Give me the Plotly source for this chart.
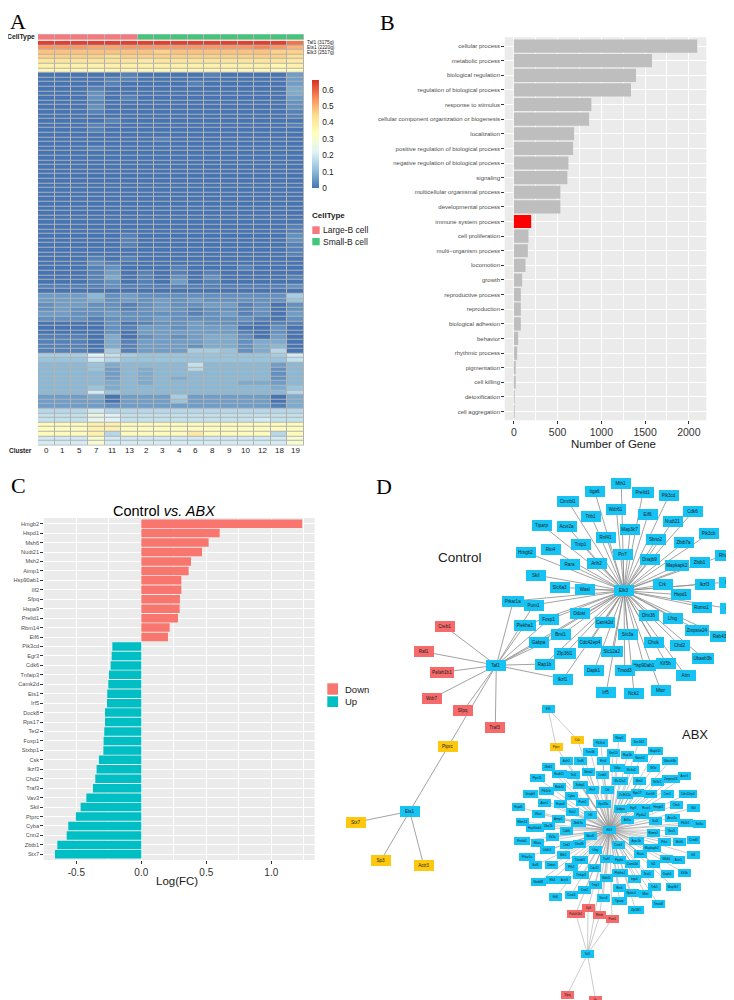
import plotly.graph_objects as go

W, H = 734, 1000


def fx(v):
    return v / W


def fy(v):
    return 1 - v / H


FONT = "Liberation Sans, Arial, sans-serif"
SERIF = "Liberation Serif, Times New Roman, serif"

# ---------------- Panel A : heatmap ----------------
clusters = ["0", "1", "5", "7", "11", "13", "2", "3", "4", "6", "8", "9", "10", "12", "18", "19"]
cluster_celltype = ["Large-B cell"] * 6 + ["Small-B cell"] * 10
heat_row_labels = ["Taf1 (3175g)", "Ets1 (2220g)", "Elk3 (2517g)"]
# each character = value / 0.02 in base 36 (row by row)
heat_step = 0.02
heat_rows = [
    "wwwwwwwwwwwwwwwt", "rrrqqrrrrrrrrsrp", "ooooooonoooooonn", "nnnnmnnnnnnnnnnm",
    "llllllkllllllllk", "jjjjjjjjjjjjjjij", "iiihiiiiiiiiiihh",
    "0000010000100003", "0000110000000003", "0000100001000003", "0001000000000004",
    "0002000000000004", "0002010000000003", "0001000000000002", "0002000000000002",
    "0001000000000001", "0000000000000001", "0000100000000000", "0001000000000001",
    "0001000000000000", "0000000000000000", "0000000100000000", "0000000000000000",
    "0001000000000000", "0000000000000000", "0000000000000000", "0000000000000000",
    "0000000000000000", "0000000000000000", "0000000000000000", "0000000000000000",
    "0000000000000000", "0000000000000000", "0000000000000000", "0000000000000000",
    "0000000000000000", "0000000000000000", "0000000000000000", "0000000000000000",
    "0000000000000000", "0000000000000001", "0000000000000001", "0000010000000002",
    "0000010000000002", "0000010000000001", "0000000000000001", "0000000000000001",
    "0001010000000000", "0002100000000000", "0001200010001000", "0001301010100000",
    "0001401020200001", "0001201030100000", "1111211111111112", "0000000000000000",
    "3335232222222227", "3334232323222226", "2332212322331202", "2322212321221202",
    "3322322221231203", "2221222322222102", "0000201223221011", "0000213323330020",
    "0000203333331020", "1110402323442030", "1110413333442440", "1110413332442450",
    "1110713337762480", "777b97666666667a", "666a866666666669", "5556455559555535",
    "5556354558555525", "5555354555555525", "5555354545555525", "5555454555554435",
    "5556455555555546", "555a655555555558", "3334033373333304", "3333033363333304",
    "3333233333333314", "888a888888888888", "999db99999999999", "999cb99999999a99",
    "hhhjjhhhhhhhhhhh", "hhhjjhhhhhhhhhhh", "hhhj8hhhhkhhhh8h", "aaafaaaaaaaaaaaf",
    "aaafaaaaaaaaaaaf",
]
heat_z = [[int(ch, 36) * heat_step for ch in row] for row in heat_rows]
n_rows = len(heat_z)
heat_colors = ["#4575B4", "#91BFDB", "#E0F3F8", "#FFFFBF", "#FEE090", "#FC8D59", "#D73027"]
heat_scale = [[i / 6, c] for i, c in enumerate(heat_colors)]
celltype_names = ["Large-B cell", "Small-B cell"]
celltype_colors = ["#F7797E", "#43C57A"]

# ---------------- Panel B : GO bar chart ----------------
go_terms = [
    "cellular process", "metabolic process", "biological regulation",
    "regulation of biological process", "response to stimulus",
    "cellular component organization or biogenesis", "localization",
    "positive regulation of biological process", "negative regulation of biological process",
    "signaling", "multicellular organismal process", "developmental process",
    "immune system process", "cell proliferation", "multi\u2212organism process", "locomotion",
    "growth", "reproductive process", "reproduction", "biological adhesion", "behavior",
    "rhythmic process", "pigmentation", "cell killing", "detoxification", "cell aggregation",
]
go_counts = [2096, 1579, 1396, 1339, 886, 860, 688, 677, 624, 612, 532, 532,
             198, 167, 160, 133, 95, 80, 80, 80, 49, 38, 11, 11, 9, 3]
go_highlight = "immune system process"

# ---------------- Panel C : log fold change ----------------
genes = ["Hmgb2", "Hspd1", "Msh6", "Nudt21", "Msh2", "Aimp1", "Hsp90ab1", "Ilf2", "Sfpq",
         "Hspa9", "Prelid1", "Rbm14", "Eif6", "Pik3cd", "Egr3", "Cdk6", "Tnfaip3", "Camk2d",
         "Ets1", "Irf5", "Dock8", "Rps17", "Tet2", "Foxp1", "Stxbp1", "Csk", "Ikzf3", "Chd2",
         "Traf3", "Vav3", "Skil", "Ptprc", "Cyba", "Cnn2", "Zbtb1", "Stx7"]
logfc = [1.238, 0.603, 0.518, 0.467, 0.382, 0.364, 0.308, 0.308, 0.297, 0.295, 0.282,
         0.218, 0.205, -0.223, -0.228, -0.236, -0.249, -0.254, -0.262, -0.264, -0.279,
         -0.279, -0.285, -0.290, -0.292, -0.326, -0.344, -0.354, -0.372, -0.423, -0.467,
         -0.503, -0.562, -0.574, -0.646, -0.664]
fc_groups = ["Down", "Up"]
fc_colors = ["#F8766D", "#00BFC4"]

# ---------------- Panel D : networks ----------------
ctrl_names = [
    "Mth1", "Itga6", "Prelid1", "Pik3cd", "Ctnnbl1", "Wdr61", "Cdk6", "Trib1",
    "Eif6", "Nudt21", "Tiparp", "Acvr2a", "Map3k7", "Pik3cb", "Rnf41", "Sbno2",
    "Zbtb7a", "Tnip1", "Hmgb2", "Rtn4", "Prr7", "Rhoh", "Dnajb9", "Zbtb1",
    "Arih2", "Rara", "Mapkapk2", "Skil", "Ikzf3", "Id2", "Crk", "Slc6a3",
    "Wasl", "Elk3", "Hspd1", "Prkar1a", "Pum1", "Romo1", "Csk", "Ddost",
    "Dhx36", "Lfng", "Foxp1", "Camk2d", "Plekha1", "Zmpste24", "Sin3a", "Bmi1",
    "Rab43", "Chuk", "Gabpa", "Cdc42ep4", "Chd2", "Slc12a2", "Zfp36l1", "Ubash3b",
    "Taf1", "Rap1b", "Kif5b", "Hsp90ab1", "Dapk1", "Tmod3", "Atm", "Ikzf1",
    "Irf5", "Nck2", "Mtor", "Creb1", "Raf1", "Pafah1b1", "Wdr7", "Sfpq",
    "Traf3", "Ptprc", "Ets1", "Stx7", "Sp3", "Actr3",
]
ctrl_x = [
    613.3, 586.7, 635.0, 661.0, 560.0, 608.3, 685.3, 583.3,
    640.0, 665.0, 534.0, 558.7, 622.3, 701.0, 598.3, 648.3,
    676.0, 573.3, 518.3, 542.7, 615.0, 716.7, 641.7, 691.7,
    589.3, 561.7, 669.3, 527.7, 696.7, 720.7, 655.3, 551.7,
    576.7, 616.0, 672.7, 505.3, 525.7, 694.3, 721.7, 572.0,
    641.0, 665.3, 540.7, 596.7, 516.7, 689.3, 620.0, 553.3,
    712.3, 645.7, 531.0, 581.7, 671.7, 604.0, 557.0, 695.3,
    488.3, 536.7, 658.3, 636.0, 586.0, 616.7, 677.7, 555.0,
    598.3, 626.0, 652.7, 436.7, 416.0, 434.3, 424.3, 455.3,
    487.3, 440.0, 401.7, 347.7, 372.7, 415.7,
]
ctrl_y = [
    475.7, 483.3, 484.0, 487.3, 493.3, 501.0, 503.3, 508.7,
    506.7, 513.3, 517.0, 518.0, 521.7, 525.7, 529.0, 531.7,
    534.3, 536.0, 544.3, 541.0, 546.0, 547.0, 551.7, 554.0,
    555.7, 556.7, 557.3, 567.0, 576.0, 574.0, 576.7, 579.3,
    581.3, 582.7, 586.7, 593.0, 597.0, 599.0, 600.7, 605.0,
    607.7, 610.3, 611.7, 614.0, 617.3, 622.0, 626.7, 626.7,
    628.3, 634.3, 634.3, 634.3, 637.3, 643.3, 645.7, 650.0,
    657.3, 656.0, 655.0, 657.7, 662.7, 662.0, 667.7, 671.0,
    684.3, 685.0, 682.3, 618.3, 643.7, 664.3, 690.3, 702.7,
    719.3, 738.7, 803.3, 814.3, 852.7, 857.3,
]
ctrl_red = ["Creb1", "Raf1", "Pafah1b1", "Wdr7", "Sfpq", "Traf3"]
ctrl_yellow = ["Ptprc", "Stx7", "Sp3", "Actr3"]
ctrl_hub = "Elk3"
ctrl_taf1_links = ["Creb1", "Raf1", "Pafah1b1", "Wdr7", "Sfpq", "Traf3", "Ptprc", "Prkar1a",
                   "Pum1", "Plekha1", "Foxp1", "Gabpa", "Bmi1", "Rap1b", "Ikzf1", "Elk3"]
ctrl_ets1_links = ["Ptprc", "Stx7", "Sp3", "Actr3"]

abx_names = [
    "Elf1", "Ptprc", "Csk", "Pik3cd", "Wwp2", "Sec14l1", "Mapk10", "Tnrc6b",
    "Snx10", "Rap1b", "Notch2", "Ubash3b", "Arih2", "Traf6", "Etv6", "Zbtb1",
    "Tollip", "Slc6a3", "Nt5e", "Nudt21", "Tet2", "Sbno2", "Creb1", "Bmi1",
    "Nr3c1", "Zmpste24", "Acvr1", "Ptpn11", "Rab43", "Stxbp1", "Slc12a2", "Dnajb9",
    "Pik3cb", "Cyba", "Prr7", "Crk", "Zc3h12a", "Rps17", "Dock8", "Cnn1",
    "Cdc42ep4", "Hspd1", "Atxn1", "Hspa9", "Pum2", "Vps33a", "Gabpa", "Egr3",
    "Rcor1", "Hmgb2", "Chuk", "Skil", "Wasl", "Aimp1", "Nck2", "Irf5",
    "Elk3", "Ptp4a2", "Ikzf1", "Acvr2a", "Pik3r1", "Sin3a", "Rbm14", "Hsp90ab1",
    "Ube2k", "Zbtb7a", "Arl5a", "Vav3", "Cdk6", "Prelid1", "Rhoa", "Kif5a",
    "Wasf2", "Chd2", "Dhx36", "Cnot1", "Arpc1b", "Romo1", "Prkx", "Msh6",
    "Ccnd3", "Ltb4r1", "Lfng", "Mapkapk2", "Prkar1a", "Mth1", "Rara", "Nfkb1",
    "Actr1", "Irf1", "Ikzf3", "Ddost", "Ctnnbl1", "Traf3", "Ppp6c", "Camk2d",
    "Id2", "Dapk1", "Kif5b", "Ptk2", "Cdc42", "Plekha1", "Stat1", "Itga6",
    "Tnfaip3", "Wdr61", "Nedd4l", "Elk4", "Actr3", "Tnip1", "Rtn4", "Trib1",
    "Map3k7", "Cnn2", "Cnot4", "Eif6", "Socs3", "Nploc4", "Mtor", "Tiparp",
    "Zfp36l1", "Tmod3", "Sp3", "Pafah1b1", "Rhob", "Pum1", "Taf1", "Sfpq", "Itk",
]
abx_x = [
    540.0, 548.3, 569.3, 592.7, 611.0, 630.7, 647.7, 582.7,
    605.0, 619.3, 632.7, 661.7, 558.7, 572.7, 595.0, 540.0,
    609.3, 623.3, 645.0, 551.7, 565.0, 580.3, 594.0, 631.0,
    649.0, 663.3, 676.0, 529.3, 551.7, 572.7, 611.7, 522.7,
    538.3, 563.7, 584.0, 599.3, 617.3, 629.0, 642.0, 659.3,
    680.0, 510.7, 536.7, 552.0, 574.3, 595.0, 612.0, 625.0,
    638.3, 650.7, 668.7, 685.0, 530.0, 550.3, 564.3, 582.7,
    601.7, 633.3, 647.7, 664.3, 677.0, 691.7, 514.3, 526.7,
    540.7, 570.0, 619.3, 663.3, 558.0, 514.0, 529.3, 544.0,
    582.7, 558.3, 571.7, 610.7, 628.3, 645.0, 656.7, 671.0,
    685.0, 539.3, 587.3, 644.3, 519.0, 555.0, 632.7, 658.3,
    670.0, 685.0, 527.7, 543.3, 571.7, 598.7, 611.3, 624.3,
    645.7, 659.0, 676.7, 563.3, 586.0, 611.7, 639.0, 626.7,
    573.3, 598.3, 530.0, 544.0, 556.7, 587.3, 611.0, 646.7,
    665.7, 576.7, 563.3, 547.3, 595.0, 623.3, 637.3, 611.7,
    627.7, 650.0, 580.0, 567.7, 591.7, 604.0, 579.5, 559.2, 587.5,
]
abx_y = [
    700.7, 739.0, 731.7, 734.7, 730.0, 734.3, 743.3, 744.3,
    745.3, 747.3, 750.0, 753.3, 752.7, 752.7, 753.3, 759.0,
    760.0, 762.3, 760.0, 765.7, 766.7, 764.0, 766.7, 772.7,
    774.3, 771.0, 768.3, 770.0, 779.3, 777.0, 773.3, 786.0,
    782.7, 787.7, 781.7, 781.7, 786.7, 785.3, 785.7, 785.7,
    785.7, 799.3, 795.0, 796.0, 793.7, 795.7, 800.7, 800.0,
    800.0, 799.3, 796.7, 800.0, 805.7, 810.7, 804.0, 806.7,
    821.7, 806.7, 813.3, 810.0, 815.0, 816.0, 814.0, 820.0,
    818.3, 815.0, 811.7, 822.7, 822.7, 832.7, 835.0, 829.3,
    828.0, 836.7, 836.0, 837.3, 832.7, 825.0, 834.3, 834.3,
    831.7, 842.0, 842.3, 840.0, 849.0, 847.3, 846.0, 851.0,
    851.7, 846.7, 857.3, 857.3, 851.7, 851.0, 852.3, 856.0,
    856.0, 866.0, 865.3, 859.3, 860.0, 865.0, 865.7, 870.7,
    867.3, 870.0, 874.3, 871.7, 871.7, 876.7, 880.0, 879.0,
    879.0, 882.3, 886.7, 889.3, 890.0, 885.0, 885.7, 893.3,
    901.7, 895.7, 900.0, 905.7, 907.3, 911.0, 946.2, 986.7, 991.5,
]
abx_red = ["Sp3", "Pafah1b1", "Rhob", "Pum1", "Sfpq", "Itk"]
abx_yellow = ["Ptprc", "Csk"]
abx_hub = "Elk3"
abx_elf1_links = ["Ptprc", "Csk"]
abx_taf1_links = ["Sp3", "Pafah1b1", "Rhob", "Pum1", "Sfpq", "Itk", "Elk3"]

NODE_BLUE, NODE_RED, NODE_YELLOW = "#17C3F2", "#F56B6B", "#FDC80D"

# ---------------- Figure ----------------
fig = go.Figure()

fig.add_trace(go.Heatmap(
    z=heat_z, x=list(range(len(clusters))), y=list(range(n_rows)),
    colorscale=heat_scale, zmin=0, zmax=0.66, xgap=1, ygap=1,
    hoverinfo="skip", xaxis="x", yaxis="y",
    colorbar=dict(x=fx(304), xanchor="left", y=fy(126), yanchor="middle",
                  len=108, lenmode="pixels", thickness=7, thicknessmode="pixels",
                  xpad=0, ypad=0, outlinewidth=0, ticks="outside", ticklen=2,
                  tickcolor="rgba(0,0,0,0)",
                  tickvals=[0, 0.1, 0.2, 0.3, 0.4, 0.5, 0.6],
                  ticktext=["0", "0.1", "0.2", "0.3", "0.4", "0.5", "0.6"],
                  tickfont=dict(size=8.3, color="#1a1a1a", family=FONT)),
))

ct_index = [celltype_names.index(c) for c in cluster_celltype]
fig.add_trace(go.Heatmap(
    z=[ct_index], x=list(range(len(clusters))), y=[0],
    colorscale=[[0, celltype_colors[0]], [0.5, celltype_colors[0]],
                [0.5, celltype_colors[1]], [1, celltype_colors[1]]],
    zmin=0, zmax=1, xgap=1, showscale=False, hoverinfo="skip",
    xaxis="x5", yaxis="y5",
))

fig.add_trace(go.Bar(
    x=go_counts, y=go_terms, orientation="h", width=0.9,
    marker=dict(color=["#FF0000" if t == go_highlight else "#BEBEBE" for t in go_terms],
                line=dict(width=0)),
    hoverinfo="skip", xaxis="x2", yaxis="y2",
))

fig.add_trace(go.Bar(
    x=logfc, y=genes, orientation="h", width=0.9,
    marker=dict(color=[fc_colors[0] if v > 0 else fc_colors[1] for v in logfc],
                line=dict(width=0)),
    hoverinfo="skip", xaxis="x3", yaxis="y3",
))


def edge_trace(pairs, names, xs, ys, width):
    pos = {n: (x, y) for n, x, y in zip(names, xs, ys)}
    ex, ey = [], []
    for a, b in pairs:
        ex += [pos[a][0], pos[b][0], None]
        ey += [pos[a][1], pos[b][1], None]
    return go.Scatter(x=ex, y=ey, mode="lines", line=dict(color="#8a8a8a", width=width),
                      hoverinfo="skip", xaxis="x4", yaxis="y4")


ctrl_pairs = [(ctrl_hub, n) for n in ctrl_names
              if n not in ctrl_red and n not in ctrl_yellow and n not in (ctrl_hub, "Taf1", "Ets1")]
ctrl_pairs += [("Taf1", n) for n in ctrl_taf1_links]
ctrl_pairs += [("Ets1", n) for n in ctrl_ets1_links]
fig.add_trace(edge_trace(ctrl_pairs, ctrl_names, ctrl_x, ctrl_y, 0.8))

abx_pairs = [(abx_hub, n) for n in abx_names if n not in (abx_hub, "Elf1", "Taf1", "Sfpq", "Itk")]
abx_pairs += [("Elf1", n) for n in abx_elf1_links]
abx_pairs += [("Taf1", n) for n in abx_taf1_links]
fig.add_trace(edge_trace(abx_pairs, abx_names, abx_x, abx_y, 0.45))

annotations = []


def add_text(text, x, y, size, xanchor="center", yanchor="middle", xref="paper", yref="paper",
             color="#1a1a1a", family=FONT):
    annotations.append(dict(text=text, x=x, y=y, xref=xref, yref=yref, xanchor=xanchor,
                            yanchor=yanchor, showarrow=False, borderpad=0,
                            font=dict(size=size, color=color, family=family)))


def add_nodes(names, xs, ys, red, yellow, size, per_char, min_w, h):
    for n, x, y in zip(names, xs, ys):
        col = NODE_RED if n in red else NODE_YELLOW if n in yellow else NODE_BLUE
        w = max(min_w, per_char * len(n) + 3)
        annotations.append(dict(text=n, x=x, y=y, xref="x4", yref="y4", showarrow=False,
                                bgcolor=col, borderpad=1, borderwidth=0, width=w, height=h,
                                align="center", valign="middle",
                                font=dict(size=size, color="#1a1a1a", family=FONT)))


add_nodes(ctrl_names, ctrl_x, ctrl_y, ctrl_red, ctrl_yellow, 4.6, 2.4, 17.5, 9)
add_nodes(abx_names, abx_x, abx_y, abx_red, abx_yellow, 3.0, 1.6, 11, 6)

# panel letters
add_text("A", fx(10), fy(13), 22, family=SERIF, color="#000")
add_text("B", fx(379), fy(14), 22, family=SERIF, color="#000")
add_text("C", fx(10), fy(477), 22, family=SERIF, color="#000")
add_text("D", fx(376), fy(478), 22, family=SERIF, color="#000")

# panel A texts
add_text("<b>CellType</b>", fx(28), fy(29), 6.8, xanchor="right")
for i, lab in enumerate(heat_row_labels):
    add_text(lab, fx(298.3), i, 4.8, xanchor="left", yref="y")
add_text("<b>Cluster</b>", fx(25), fy(442.5), 6.5, xanchor="right")
for i, c in enumerate(clusters):
    add_text(c, i, fy(442.5), 8, xref="x")
add_text("<b>CellType</b>", fx(303.3), fy(207.3), 8, xanchor="left")
add_text("Large-B cell", fx(314.3), fy(222.2), 8.5, xanchor="left")
add_text("Small-B cell", fx(314.3), fy(233.7), 8.5, xanchor="left")

# panel B / C texts
add_text("Number of Gene", fx(605.5), fy(436), 11.5)
add_text("Control <i>vs. ABX</i>", fx(156.8), fy(503.3), 14.5, color="#000")
add_text("Log(FC)", fx(168.7), fy(873.3), 11.5)
add_text("Down", fx(336), fy(681), 9.5, xanchor="left")
add_text("Up", fx(336), fy(693.7), 9.5, xanchor="left")

# panel D texts
add_text("Control", fx(451.7), fy(549), 13.5)
add_text("ABX", fx(686.7), fy(726.7), 13)

shapes = [
    dict(type="rect", xref="x domain", yref="y domain", x0=0, x1=1, y0=0, y1=1,
         fillcolor="#b3b3b3", line=dict(width=0), layer="below"),
    dict(type="rect", xref="x5 domain", yref="y5 domain", x0=0, x1=1, y0=0, y1=1,
         fillcolor="#b3b3b3", line=dict(width=0), layer="below"),
    dict(type="rect", xref="x2 domain", yref="y2 domain", x0=0, x1=1, y0=0, y1=1,
         fillcolor="#EBEBEB", line=dict(width=0), layer="below"),
    dict(type="rect", xref="x3 domain", yref="y3 domain", x0=0, x1=1, y0=0, y1=1,
         fillcolor="#EBEBEB", line=dict(width=0), layer="below"),
    dict(type="rect", xref="paper", yref="paper", x0=fx(304.3), x1=fx(311.7), y0=fy(226),
         y1=fy(218.3), fillcolor=celltype_colors[0], line=dict(width=0)),
    dict(type="rect", xref="paper", yref="paper", x0=fx(304.3), x1=fx(311.7), y0=fy(237.3),
         y1=fy(230), fillcolor=celltype_colors[1], line=dict(width=0)),
    dict(type="rect", xref="paper", yref="paper", x0=fx(319.3), x1=fx(330), y0=fy(686.7),
         y1=fy(675.3), fillcolor=fc_colors[0], line=dict(width=0)),
    dict(type="rect", xref="paper", yref="paper", x0=fx(319.3), x1=fx(330), y0=fy(699),
         y1=fy(688.3), fillcolor=fc_colors[1], line=dict(width=0)),
]

off = dict(showgrid=False, zeroline=False, showline=False, showticklabels=False, ticks="")
tick_common = dict(ticks="outside", ticklen=2.5, tickwidth=0.7, tickcolor="#333333",
                   showgrid=True, gridcolor="white", gridwidth=1, zeroline=False, showline=False)

fig.update_layout(
    width=W, height=H, margin=dict(l=0, r=0, t=0, b=0),
    paper_bgcolor="white", plot_bgcolor="rgba(0,0,0,0)", showlegend=False,
    font=dict(family=FONT, color="#1a1a1a"),
    xaxis=dict(domain=[fx(30), fx(296)], range=[-0.5, len(clusters) - 0.5], anchor="y", **off),
    yaxis=dict(domain=[fy(437.5), fy(32.7)], range=[n_rows - 0.5, -0.5], anchor="x", **off),
    xaxis5=dict(domain=[fx(30), fx(296)], range=[-0.5, len(clusters) - 0.5], anchor="y5", **off),
    yaxis5=dict(domain=[fy(31.7), fy(26.3)], range=[-0.5, 0.5], anchor="x5", **off),
    xaxis2=dict(domain=[fx(496.7), fx(698.3)], range=[-104.5, 2199.5], anchor="y2",
                tickvals=[0, 500, 1000, 1500, 2000],
                tickfont=dict(size=10.5, color="#333333", family=FONT),
                minor=dict(tickvals=[250, 750, 1250, 1750], showgrid=True, gridcolor="white",
                           gridwidth=0.5, ticks=""),
                **tick_common),
    yaxis2=dict(domain=[fy(412.3), fy(29.3)], anchor="x2", type="category",
                categoryorder="array", categoryarray=go_terms,
                range=[len(go_terms) - 0.4, -0.6],
                tickfont=dict(size=6, color="#4d4d4d", family=FONT), **tick_common),
    xaxis3=dict(domain=[fx(35.7), fx(306.7)], range=[-0.751, 1.334], anchor="y3",
                tickvals=[-0.5, 0, 0.5, 1.0], ticktext=["-0.5", "0.0", "0.5", "1.0"],
                tickfont=dict(size=10, color="#333333", family=FONT),
                minor=dict(tickvals=[-0.25, 0.25, 0.75, 1.25], showgrid=True,
                           gridcolor="white", gridwidth=0.5, ticks=""),
                **tick_common),
    yaxis3=dict(domain=[fy(852), fy(510)], anchor="x3", type="category",
                categoryorder="array", categoryarray=genes,
                range=[len(genes) - 0.4, -0.6],
                tickfont=dict(size=5.6, color="#4d4d4d", family=FONT), **tick_common),
    xaxis4=dict(domain=[fx(330), 1], range=[330, 734], anchor="y4", visible=False),
    yaxis4=dict(domain=[0, fy(465)], range=[1000, 465], anchor="x4", visible=False),
    annotations=annotations,
    shapes=shapes,
)

fig.write_html("out.html")
